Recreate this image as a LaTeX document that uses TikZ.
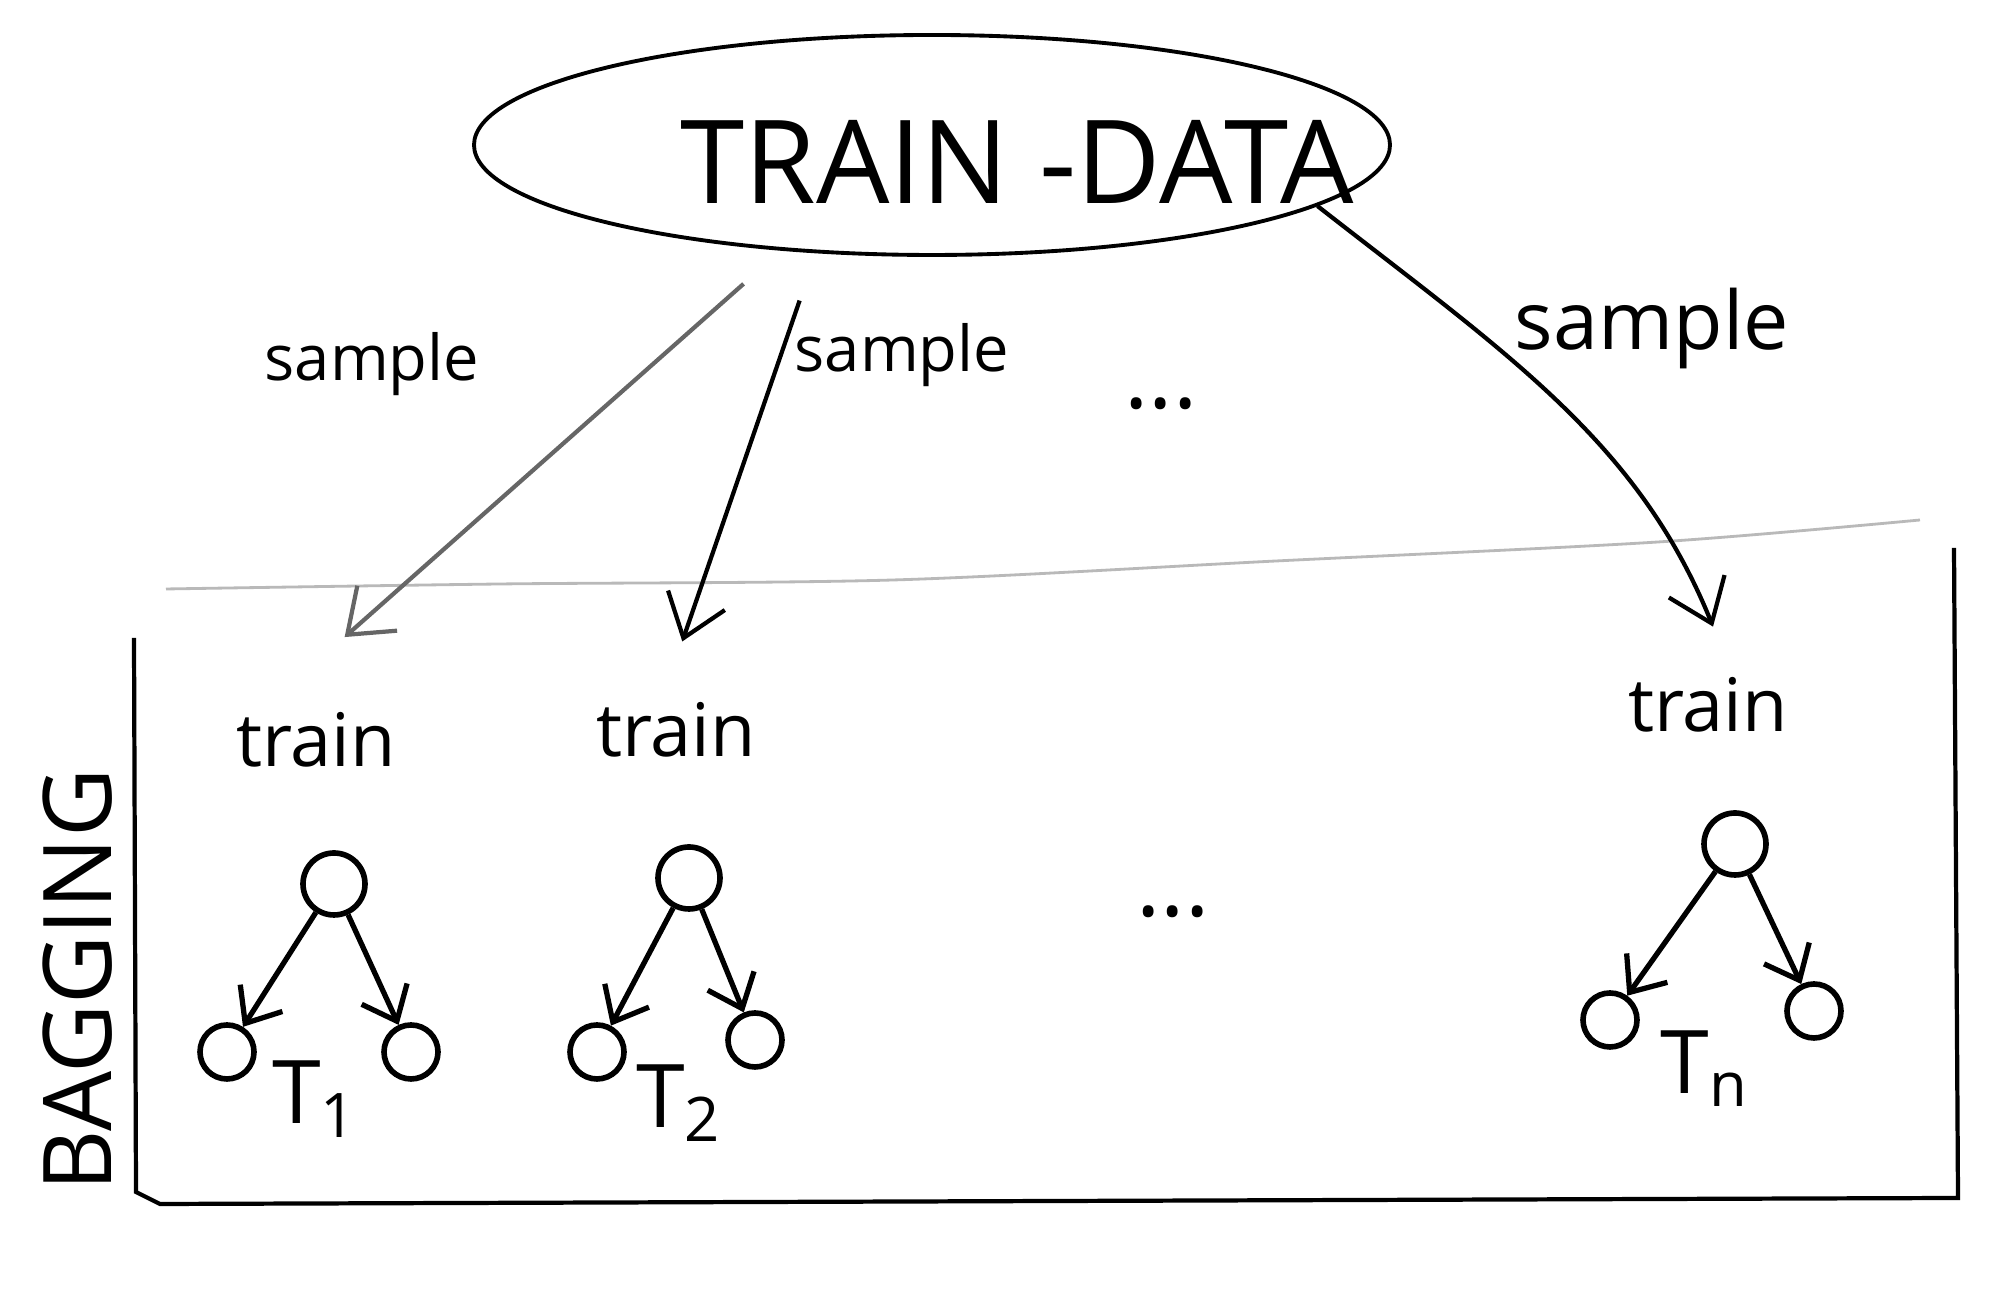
\documentclass[tikz,border=0pt]{standalone}
\usepackage{fontspec}
\setmainfont{Open Sans}
\usetikzlibrary{shapes.geometric,arrows.meta}

\tikzset{
	root/.style={draw, circle, line width=1.6pt, minimum size=6.2mm, inner sep=0pt},
	leaf/.style={root, minimum size=5.4mm},
	edge/.style={->, line width=1.5pt},
	pick/.style={-{Straight Barb[length=4mm,width=6mm]}},
	word/.style={font=\fontsize{21}{24}\selectfont},
	smp/.style={font=\fontsize{18}{22}\selectfont},
	tname/.style={font=\fontsize{25}{28}\selectfont},
	dots/.style={font=\fontsize{26}{28}\selectfont}
}

\begin{document}
\begin{tikzpicture}[line width=1.2pt, >={Straight Barb[length=3mm,width=5mm]}]
			\useasboundingbox (0,0) rectangle (20,13.14);

			\node[draw, ellipse, line width=1.1pt, minimum width=9.16cm, minimum height=2.2cm] (d) at (9.32,11.69) {};
			\node[font=\fontsize{33}{36}\selectfont] (title) at (10.17,11.52) {TRAIN -DATA};

			\node[smp] (s1) at (3.72,9.50) {sample};
			\node[smp] (s2) at (9.02,9.59) {sample};
			\node[smp, font=\fontsize{23}{26}\selectfont] (s3) at (16.52,9.85) {sample};
			\node[dots] (dt1) at (11.61,9.10) {...};

			\node[word] (t1) at (3.16,5.74) {train};
			\node[word] (t2) at (6.76,5.84) {train};
			\node[word] (t3) at (17.08,6.09) {train};

			\node[root] (r1) at (3.34,4.30) {};
			\node[leaf] (a1) at (2.27,2.62) {};
			\node[leaf] (b1) at (4.11,2.62) {};
			\node[tname] (n1) at (3.15,2.15) {T\textsubscript{1}};

			\node[root] (r2) at (6.89,4.36) {};
			\node[leaf] (a2) at (5.97,2.62) {};
			\node[leaf] (b2) at (7.55,2.74) {};
			\node[tname] (n2) at (6.79,2.11) {T\textsubscript{2}};

			\node[root] (r3) at (17.35,4.70) {};
			\node[leaf] (a3) at (16.10,2.94) {};
			\node[leaf] (b3) at (18.14,3.03) {};
			\node[tname] (n3) at (17.05,2.45) {T\textsubscript{n}};

			\node[dots] (dt2) at (11.73,4.02) {...};
			\node[rotate=90, font=\fontsize{27}{30}\selectfont] (bag) at (0.78,3.34) {BAGGING};

			\draw[gray!55, line width=0.8pt] plot[smooth] coordinates {(1.66,7.25) (5.00,7.30) (8.93,7.34) (12.76,7.53) (16.58,7.72) (19.20,7.94)};
			\draw (1.34,6.76) -- (1.36,1.22) -- (1.60,1.10) -- (19.58,1.16) -- (19.54,7.66);

			\draw[pick, black!60, shorten <=5mm, shorten >=9.3mm] (d.215) -- ([xshift=-4.1mm]t1.north);
			\draw[pick, shorten <=5mm, shorten >=5mm] (d.223) -- ([xshift=-1mm]t2.north);
			\draw[pick, shorten >=4mm] (d.-9) to [out=-38, in=112] ([xshift=2mm]t3.north);

			\draw[edge] (r1) -- (a1);
			\draw[edge] (r1) -- (b1);
			\draw[edge] (r2) -- (a2);
			\draw[edge] (r2) -- (b2);
			\draw[edge] (r3) -- (a3);
			\draw[edge] (r3) -- (b3);
		\end{tikzpicture}
\end{document}
